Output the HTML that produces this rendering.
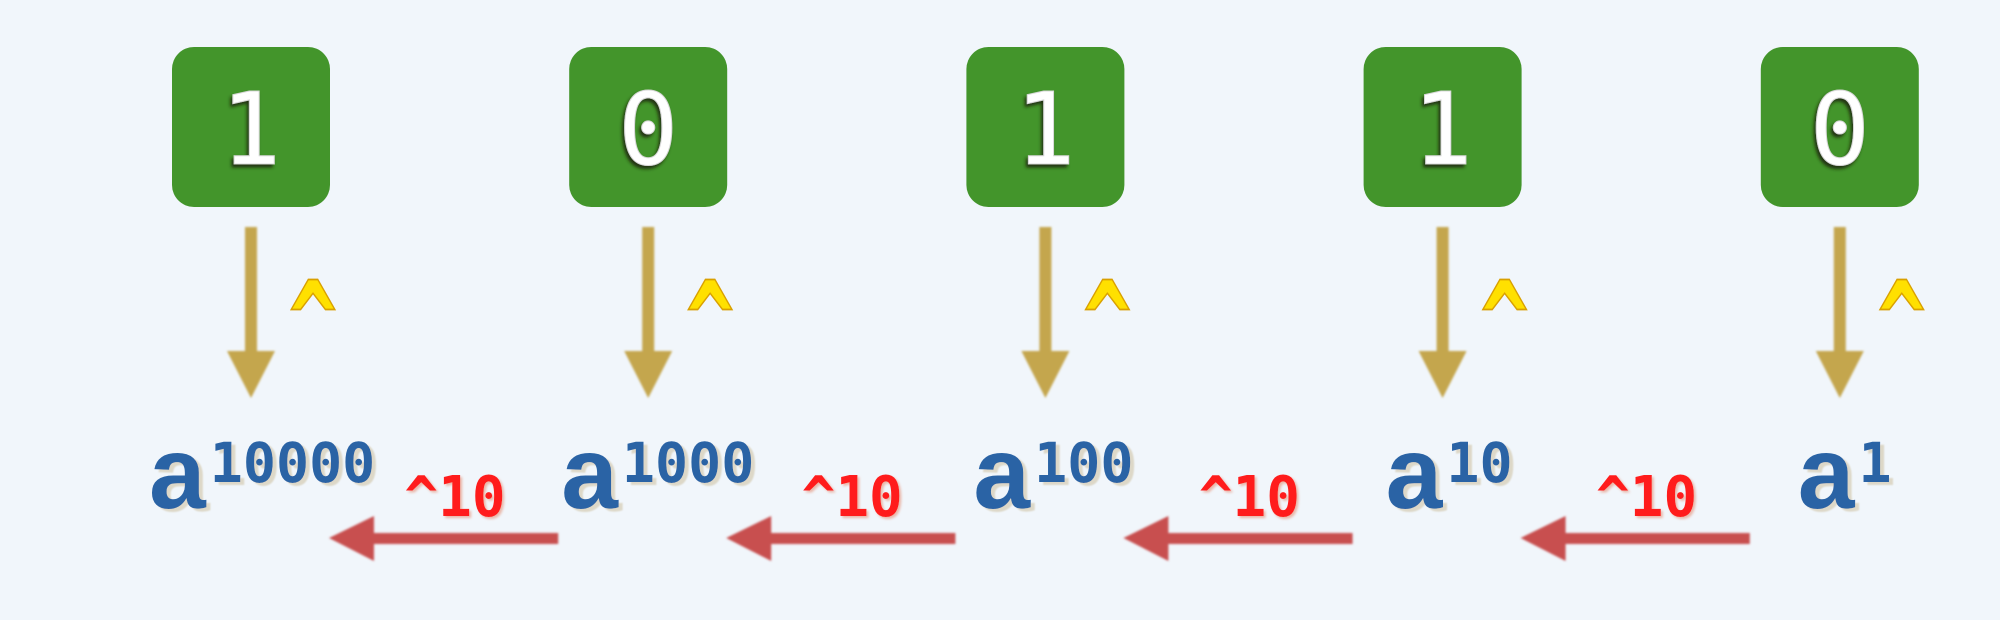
<!DOCTYPE html>
<html><head><meta charset="utf-8"><style>
html,body{margin:0;padding:0;background:#f1f6fb;}
svg{display:block}
</style></head><body>
<svg id="c" width="2000" height="620" viewBox="0 0 2000 620" xmlns="http://www.w3.org/2000/svg">
<defs>
<filter id="ds" x="-20%" y="-20%" width="140%" height="140%"><feDropShadow dx="-2" dy="3" stdDeviation="1.5" flood-color="#1a2a10" flood-opacity="0.9"/></filter>
<filter id="ls" x="-20%" y="-20%" width="140%" height="140%"><feDropShadow dx="4" dy="3" stdDeviation="0.8" flood-color="#ddd8c8" flood-opacity="1"/></filter>
<filter id="rs" x="-20%" y="-20%" width="140%" height="140%"><feDropShadow dx="2" dy="2" stdDeviation="1.2" flood-color="#e8b0a0" flood-opacity="0.9"/></filter>
<filter id="bl"><feGaussianBlur stdDeviation="1"/></filter>
</defs>
<rect width="2000" height="620" fill="#f1f6fb"/>
</svg>
<script>
const bits = [1, 0, 1, 1, 0];
const exponents = ['10000', '1000', '100', '10', '1'];
const powLabel = '^10';

const NS = 'http://www.w3.org/2000/svg';
const svg = document.getElementById('c');
const colX = i => 251 + i * 397.2;
const labelX = i => 149 + i * 412.2;
function mk(tag, attrs, text) {
  const e = document.createElementNS(NS, tag);
  for (const k in attrs) e.setAttribute(k, attrs[k]);
  if (text !== undefined) e.textContent = text;
  svg.appendChild(e);
  return e;
}
bits.forEach((b, i) => {
  const cx = colX(i);
  const box = mk('rect', {x: cx - 79, y: 47, width: 158, height: 160, rx: 22, fill: '#43952b'});
  
  
  const t = mk('text', {x: cx, y: 164, 'text-anchor': 'middle', 'font-family': 'DejaVu Sans Mono, Liberation Mono, monospace', 'font-size': 100, fill: '#ffffff', stroke: '#d8d8d8', 'stroke-width': 1, filter: 'url(#ds)'}, String(b));
  
  
  const g = mk('g', {fill: '#c4a64e', filter: 'url(#bl)'});
  
  
  const sh = document.createElementNS(NS, 'rect');
  sh.setAttribute('x', cx - 6); sh.setAttribute('y', 227); sh.setAttribute('width', 12); sh.setAttribute('height', 130);
  g.appendChild(sh);
  const hd = document.createElementNS(NS, 'polygon');
  hd.setAttribute('points', `${cx-24},351 ${cx+24},351 ${cx},398`);
  g.appendChild(hd);
  const c = mk('text', {transform: `translate(${cx + 62},360) scale(1.05,1.45)`, 'text-anchor': 'middle', 'font-family': 'DejaVu Sans Mono, monospace', 'font-weight': 'bold', 'font-size': 76, fill: '#ffe000', stroke: '#d9a000', 'stroke-width': 1.2}, '^');
  
  
  const lab = mk('text', {x: labelX(i), y: 508, 'font-family': 'Liberation Sans, sans-serif', 'font-weight': 'bold', fill: '#2a63a5', filter: 'url(#ls)'});
  
  
  const a = document.createElementNS(NS, 'tspan');
  a.setAttribute('font-size', 102); a.textContent = 'a';
  lab.appendChild(a);
  const sup = document.createElementNS(NS, 'tspan');
  sup.setAttribute('font-size', 55); sup.setAttribute('dy', -26); sup.setAttribute('dx', 4);
  sup.setAttribute('font-family', 'DejaVu Sans Mono, monospace');
  sup.textContent = exponents[i];
  lab.appendChild(sup);
  if (i < bits.length - 1) {
    const x0 = colX(i) + 78, x1 = colX(i + 1) - 90;
    const r = mk('text', {x: cx + 204, y: 516, 'text-anchor': 'middle', 'font-family': 'DejaVu Sans Mono, monospace', 'font-weight': 'bold', 'font-size': 56, fill: '#ff1a1a', filter: 'url(#rs)'}, powLabel);
    
    
    const ga = mk('g', {fill: '#c85050', filter: 'url(#bl)'});
    
    
    const s2 = document.createElementNS(NS, 'rect');
    s2.setAttribute('x', x0 + 40); s2.setAttribute('y', 533); s2.setAttribute('width', x1 - x0 - 40); s2.setAttribute('height', 11);
    ga.appendChild(s2);
    const h2 = document.createElementNS(NS, 'polygon');
    h2.setAttribute('points', `${x0},538 ${x0+45},516 ${x0+45},561`);
    ga.appendChild(h2);
  }
});
</script>
</body></html>
